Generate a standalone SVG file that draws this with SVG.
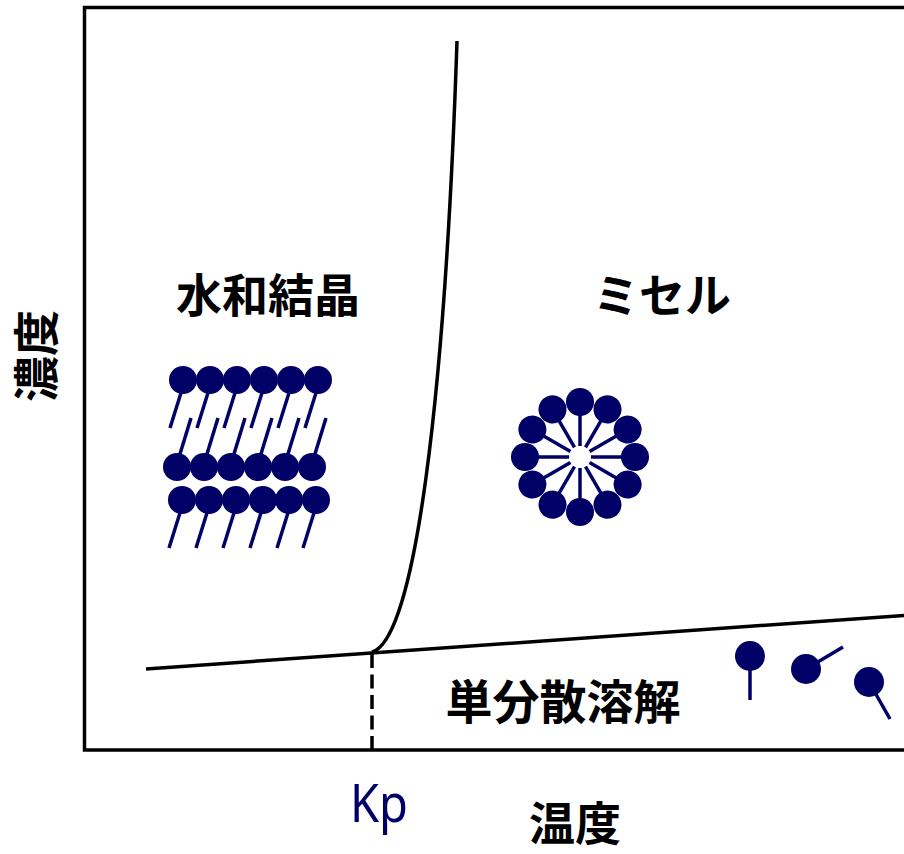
<svg xmlns="http://www.w3.org/2000/svg" width="904" height="854" viewBox="0 0 904 854">
  <style>
    .frame { fill: none; stroke: #000; stroke-width: 3.5; }
    .edge { fill: none; stroke: #000; stroke-width: 3.5; }
    .dash { fill: none; stroke: #000; stroke-width: 3.5; stroke-dasharray: 14 6.5; }
    .head { fill: #000066; }
    .tail { stroke: #000066; stroke-width: 3.5; stroke-linecap: butt; }
    .label { font-family: "Noto Sans CJK JP", "Noto Sans", sans-serif; font-weight: 700; font-size: 46px; fill: #000; text-anchor: middle; }
    .axis { font-family: "Noto Sans", "Open Sans", sans-serif; font-size: 52px; fill: #000066; }
  </style>

  <rect width="904" height="854" fill="#fff"/>

  <!-- plot frame (open on the right) -->
  <path class="frame" d="M910,7.5 H84.5 V750 H910"/>

  <!-- phase boundaries -->
  <g id="connectors">
    <path class="edge" d="M146,669 L910,615"/>
    <path class="edge" d="M372,652 C415,640 445,400 457,41"/>
    <path class="dash" d="M372,654 V750"/>
  </g>

  <!-- region labels -->
  <g id="hydrate-crystal-label"><text class="label" x="268" y="312">水和結晶</text></g>
  <g id="micelle-label"><text class="label" x="662" y="312">ミセル</text></g>
  <g id="monomer-label"><text class="label" x="563" y="719" style="font-size:47px">単分散溶解</text></g>
  <g id="axis-x"><text class="label" x="575" y="840">温度</text></g>
  <g id="axis-y"><text class="label" transform="translate(53,356) rotate(-90)" x="0" y="0">濃度</text></g>
  <g id="kp"><text class="axis" x="350" y="822" textLength="58" lengthAdjust="spacingAndGlyphs">Kp</text></g>

  <!-- hydrated crystal: stacked surfactant layers -->
  <g id="hydrate-crystal">
    <g id="row-top">
      <line class="tail" x1="185" y1="380" x2="170" y2="428"/>
      <line class="tail" x1="212" y1="380" x2="197" y2="428"/>
      <line class="tail" x1="239" y1="380" x2="224" y2="428"/>
      <line class="tail" x1="266" y1="380" x2="251" y2="428"/>
      <line class="tail" x1="293" y1="380" x2="278" y2="428"/>
      <line class="tail" x1="320" y1="380" x2="305" y2="428"/>
      <circle class="head" cx="183" cy="380" r="14"/>
      <circle class="head" cx="210" cy="380" r="14"/>
      <circle class="head" cx="237" cy="380" r="14"/>
      <circle class="head" cx="264" cy="380" r="14"/>
      <circle class="head" cx="291" cy="380" r="14"/>
      <circle class="head" cx="318" cy="380" r="14"/>
    </g>
    <g id="row-middle">
      <line class="tail" x1="176" y1="467" x2="191" y2="418"/>
      <line class="tail" x1="203" y1="467" x2="218" y2="418"/>
      <line class="tail" x1="230" y1="467" x2="245" y2="418"/>
      <line class="tail" x1="257" y1="467" x2="272" y2="418"/>
      <line class="tail" x1="284" y1="467" x2="299" y2="418"/>
      <line class="tail" x1="311" y1="467" x2="326" y2="418"/>
      <circle class="head" cx="177" cy="467" r="14"/>
      <circle class="head" cx="204" cy="467" r="14"/>
      <circle class="head" cx="231" cy="467" r="14"/>
      <circle class="head" cx="258" cy="467" r="14"/>
      <circle class="head" cx="285" cy="467" r="14"/>
      <circle class="head" cx="312" cy="467" r="14"/>
    </g>
    <g id="row-bottom">
      <line class="tail" x1="184" y1="500" x2="169" y2="548"/>
      <line class="tail" x1="211" y1="500" x2="196" y2="548"/>
      <line class="tail" x1="238" y1="500" x2="223" y2="548"/>
      <line class="tail" x1="265" y1="500" x2="250" y2="548"/>
      <line class="tail" x1="292" y1="500" x2="277" y2="548"/>
      <line class="tail" x1="318" y1="500" x2="303" y2="548"/>
      <circle class="head" cx="182" cy="500" r="14"/>
      <circle class="head" cx="209" cy="500" r="14"/>
      <circle class="head" cx="236" cy="500" r="14"/>
      <circle class="head" cx="263" cy="500" r="14"/>
      <circle class="head" cx="289" cy="500" r="14"/>
      <circle class="head" cx="316" cy="500" r="14"/>
    </g>
  </g>

  <!-- micelle: 12 heads on a ring, tails pointing inward -->
  <g id="micelle" transform="translate(580,457)">
    <g>
      <line class="tail" x1="0" y1="-11" x2="0" y2="-45"/>
      <line class="tail" x1="0" y1="-11" x2="0" y2="-45" transform="rotate(30)"/>
      <line class="tail" x1="0" y1="-11" x2="0" y2="-45" transform="rotate(60)"/>
      <line class="tail" x1="0" y1="-11" x2="0" y2="-45" transform="rotate(90)"/>
      <line class="tail" x1="0" y1="-11" x2="0" y2="-45" transform="rotate(120)"/>
      <line class="tail" x1="0" y1="-11" x2="0" y2="-45" transform="rotate(150)"/>
      <line class="tail" x1="0" y1="-11" x2="0" y2="-45" transform="rotate(180)"/>
      <line class="tail" x1="0" y1="-11" x2="0" y2="-45" transform="rotate(210)"/>
      <line class="tail" x1="0" y1="-11" x2="0" y2="-45" transform="rotate(240)"/>
      <line class="tail" x1="0" y1="-11" x2="0" y2="-45" transform="rotate(270)"/>
      <line class="tail" x1="0" y1="-11" x2="0" y2="-45" transform="rotate(300)"/>
      <line class="tail" x1="0" y1="-11" x2="0" y2="-45" transform="rotate(330)"/>
    </g>
    <g>
      <circle class="head" cx="0" cy="-55" r="14"/>
      <circle class="head" cx="0" cy="-55" r="14" transform="rotate(30)"/>
      <circle class="head" cx="0" cy="-55" r="14" transform="rotate(60)"/>
      <circle class="head" cx="0" cy="-55" r="14" transform="rotate(90)"/>
      <circle class="head" cx="0" cy="-55" r="14" transform="rotate(120)"/>
      <circle class="head" cx="0" cy="-55" r="14" transform="rotate(150)"/>
      <circle class="head" cx="0" cy="-55" r="14" transform="rotate(180)"/>
      <circle class="head" cx="0" cy="-55" r="14" transform="rotate(210)"/>
      <circle class="head" cx="0" cy="-55" r="14" transform="rotate(240)"/>
      <circle class="head" cx="0" cy="-55" r="14" transform="rotate(270)"/>
      <circle class="head" cx="0" cy="-55" r="14" transform="rotate(300)"/>
      <circle class="head" cx="0" cy="-55" r="14" transform="rotate(330)"/>
    </g>
  </g>

  <!-- free monomers -->
  <g id="monomer-1">
    <line class="tail" x1="750" y1="656" x2="750" y2="700"/>
    <circle class="head" cx="750" cy="656" r="15"/>
  </g>
  <g id="monomer-2">
    <line class="tail" x1="806" y1="669" x2="843" y2="647"/>
    <circle class="head" cx="806" cy="669" r="15"/>
  </g>
  <g id="monomer-3">
    <line class="tail" x1="869" y1="682" x2="890" y2="719"/>
    <circle class="head" cx="869" cy="682" r="15"/>
  </g>
</svg>
